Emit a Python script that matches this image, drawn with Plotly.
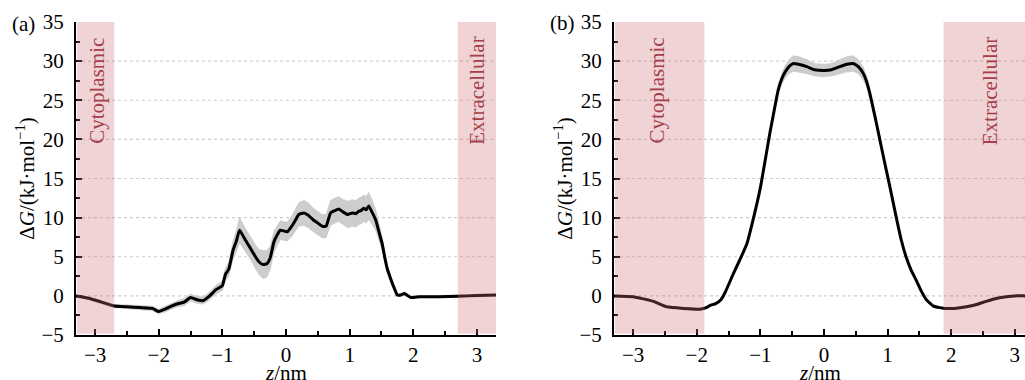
import plotly.graph_objects as go

# ---------------- data ----------------
a_z = [-3.3, -3.1, -2.9, -2.7, -2.5, -2.3, -2.1, -2.0, -1.9, -1.8, -1.7, -1.6, -1.5, -1.4,
       -1.3, -1.2, -1.1, -1.0, -0.95, -0.9, -0.83, -0.78, -0.73, -0.65, -0.56, -0.48, -0.43,
       -0.36, -0.3, -0.25, -0.19, -0.13, -0.09, 0.02, 0.09, 0.15, 0.2, 0.28, 0.35, 0.43, 0.5,
       0.57, 0.63, 0.7, 0.77, 0.83, 0.9, 0.97, 1.04, 1.1, 1.14, 1.18, 1.22, 1.26, 1.30, 1.34,
       1.41, 1.46, 1.51, 1.55, 1.59, 1.64, 1.69, 1.75, 1.8, 1.86, 1.96, 2.1, 2.4, 2.7, 3.0, 3.3]
a_g = [0.0, -0.3, -0.8, -1.3, -1.4, -1.5, -1.6, -2.0, -1.7, -1.3, -1.0, -0.8, -0.2, -0.5,
       -0.6, 0.0, 0.8, 1.3, 2.8, 3.4, 5.9, 7.0, 8.4, 7.3, 6.1, 5.0, 4.4,
       4.0, 4.1, 4.8, 6.9, 7.9, 8.4, 8.2, 8.9, 9.7, 10.4, 10.6, 10.3, 9.7, 9.3,
       8.9, 8.9, 10.6, 10.9, 11.1, 10.7, 10.4, 10.6, 10.5, 10.8, 10.9, 11.2, 11.0, 11.5, 10.9,
       9.7, 8.2, 6.7, 5.0, 3.5, 2.3, 1.2, 0.1, 0.1, 0.3, -0.2, -0.1, -0.1, -0.05, 0.05, 0.1]
a_err = [0.15, 0.15, 0.2, 0.2, 0.25, 0.25, 0.3, 0.3, 0.35, 0.4, 0.4, 0.45, 0.45, 0.45,
         0.45, 0.5, 0.55, 0.6, 0.8, 0.9, 1.2, 1.4, 1.6, 1.5, 1.4, 1.5, 1.6,
         1.8, 1.7, 1.5, 1.4, 1.3, 1.2, 1.2, 1.3, 1.4, 1.5, 1.6, 1.6, 1.5, 1.5,
         1.5, 1.5, 1.6, 1.6, 1.6, 1.6, 1.7, 1.7, 1.7, 1.7, 1.7, 1.7, 1.7, 1.7, 1.6,
         1.3, 1.1, 0.9, 0.7, 0.5, 0.4, 0.3, 0.2, 0.2, 0.2, 0.15, 0.15, 0.15, 0.15, 0.15, 0.15]

b_z = [-3.3, -3.0, -2.68, -2.47, -2.21, -1.95, -1.85, -1.79, -1.7, -1.62, -1.55, -1.42, -1.3,
       -1.21, -1.1, -1.0, -0.92, -0.85, -0.78, -0.72, -0.66, -0.61, -0.55, -0.48, -0.4, -0.27,
       -0.15, 0.0, 0.12, 0.25, 0.36, 0.46, 0.54, 0.62, 0.67, 0.72, 0.8, 0.88, 0.96, 1.04, 1.14,
       1.21, 1.29, 1.37, 1.45, 1.53, 1.61, 1.72, 1.82, 1.9, 2.05, 2.24, 2.4, 2.55, 2.72, 2.87,
       3.0, 3.16, 3.3]
b_g = [0.0, -0.1, -0.7, -1.4, -1.6, -1.7, -1.5, -1.2, -1.0, -0.5, 0.5, 2.9, 5.0,
       6.7, 10.2, 13.8, 17.5, 20.8, 23.8, 26.3, 27.8, 28.6, 29.3, 29.7, 29.6, 29.3,
       28.9, 28.8, 28.9, 29.3, 29.6, 29.7, 29.3, 28.4, 27.4, 25.9, 23.0, 19.9, 16.8, 13.8, 9.9,
       7.3, 5.0, 3.3, 2.0, 0.6, -0.5, -1.3, -1.5, -1.6, -1.6, -1.4, -1.1, -0.7, -0.3, -0.1,
       0.0, 0.0, 0.0]
b_err = [0.1, 0.1, 0.12, 0.12, 0.15, 0.15, 0.15, 0.15, 0.15, 0.15, 0.15, 0.2, 0.2,
         0.2, 0.25, 0.3, 0.35, 0.4, 0.5, 0.6, 0.7, 0.8, 0.9, 1.0, 1.0, 0.9,
         0.8, 0.8, 0.8, 0.9, 1.0, 1.0, 0.9, 0.8, 0.7, 0.6, 0.5, 0.4, 0.35, 0.3, 0.25,
         0.2, 0.2, 0.2, 0.15, 0.15, 0.15, 0.15, 0.15, 0.15, 0.12, 0.12, 0.12, 0.1, 0.1, 0.1,
         0.1, 0.1, 0.1]

x_range_a = [-3.3, 3.3]
x_range_b = [-3.3, 3.16]
y_range = [-5, 35]
grid_vals = [0, 5, 10, 15, 20, 25, 30]

regions_a = [(-3.3, -2.7, "Cytoplasmic", -2.97), (2.7, 3.3, "Extracellular", 3.0)]
regions_b = [(-3.3, -1.88, "Cytoplasmic", -2.63), (1.88, 3.3, "Extracellular", 2.6)]

FONT = "Liberation Serif, Times New Roman, serif"
shade = "rgba(202,108,115,0.3)"
text_col = "rgb(165,62,72)"

fig = go.Figure()

def add_panel(z, g, err, xa, ya):
    up = [v + e for v, e in zip(g, err)]
    lo = [v - e for v, e in zip(g, err)]
    fig.add_trace(go.Scatter(x=z, y=up, xaxis=xa, yaxis=ya, mode="lines",
                             line=dict(width=0.5, color="rgba(190,190,190,1)"),
                             showlegend=False, hoverinfo="skip"))
    fig.add_trace(go.Scatter(x=z, y=lo, xaxis=xa, yaxis=ya, mode="lines",
                             line=dict(width=0.5, color="rgba(190,190,190,1)"),
                             fill="tonexty", fillcolor="rgba(205,205,205,1)",
                             showlegend=False, hoverinfo="skip"))
    fig.add_trace(go.Scatter(x=z, y=g, xaxis=xa, yaxis=ya, mode="lines",
                             line=dict(width=3, color="black", shape="spline", smoothing=0.4),
                             showlegend=False))

add_panel(a_z, a_g, a_err, "x", "y")
add_panel(b_z, b_g, b_err, "x2", "y2")

shapes = []
annotations = []
for xr, yr, regs in [("x", "y", regions_a), ("x2", "y2", regions_b)]:
    for gv in grid_vals:
        shapes.append(dict(type="line", xref=xr + " domain", yref=yr, x0=0, x1=1, y0=gv, y1=gv,
                           line=dict(color="rgb(205,205,205)", width=1.2, dash="dot"),
                           layer="below"))
    for x0, x1, label, xc in regs:
        shapes.append(dict(type="rect", xref=xr, yref=yr,
                           x0=max(x0, -3.285), x1=x1, y0=-4.85, y1=35,
                           fillcolor=shade, line=dict(width=0), layer="above"))
        annotations.append(dict(x=xc, y=26.2, xref=xr, yref=yr, text=label, showarrow=False,
                                textangle=-90, font=dict(family=FONT, size=21, color=text_col)))
    # x-axis title, centred under the axis
    annotations.append(dict(x=0.5, y=1 - 373 / 380, xref=xr + " domain", yref="paper",
                            text="<i>z</i>/nm", showarrow=False, xanchor="center",
                            yanchor="middle", font=dict(family=FONT, size=21, color="black")))

annotations.append(dict(x=23 / 1025, y=1 - 24 / 380, xref="paper", yref="paper", text="(a)",
                        showarrow=False, xanchor="center", yanchor="middle",
                        font=dict(family=FONT, size=21, color="black")))
annotations.append(dict(x=562 / 1025, y=1 - 23 / 380, xref="paper", yref="paper", text="(b)",
                        showarrow=False, xanchor="center", yanchor="middle",
                        font=dict(family=FONT, size=21, color="black")))

def xaxis(domain, rng, anchor):
    return dict(domain=domain, range=rng, anchor=anchor, showgrid=False, zeroline=False,
                automargin=False,
                showline=True, linecolor="black", linewidth=2, ticks="inside", ticklen=6,
                tickwidth=1.5, tickcolor="black", dtick=1, tick0=0,
                minor=dict(ticks="inside", ticklen=4, tickwidth=1.5, tickcolor="black",
                           dtick=0.5, showgrid=False),
                tickfont=dict(family=FONT, size=21, color="black"), ticklabelstandoff=0)

def yaxis(anchor):
    return dict(domain=[45 / 380, 1 - 22 / 380], range=y_range, anchor=anchor, showgrid=False,
                zeroline=False, automargin=False,
                showline=True, linecolor="black", linewidth=2, ticks="inside",
                ticklen=6, tickwidth=1.5, tickcolor="black", dtick=5, tick0=0,
                minor=dict(ticks="inside", ticklen=4, tickwidth=1.5, tickcolor="black",
                           dtick=2.5, showgrid=False),
                tickfont=dict(family=FONT, size=21, color="black"), ticklabelstandoff=6,
                title=dict(text="Δ<i>G</i>/(kJ·mol<sup>−1</sup>)",
                           font=dict(family=FONT, size=21, color="black"), standoff=1))

fig.update_layout(
    width=1025, height=380,
    margin=dict(l=0, r=0, t=0, b=0),
    paper_bgcolor="white", plot_bgcolor="white",
    xaxis=xaxis([76 / 1025, 496 / 1025], x_range_a, "y"),
    yaxis=yaxis("x"),
    xaxis2=xaxis([614 / 1025, 1.0], x_range_b, "y2"),
    yaxis2=yaxis("x2"),
    shapes=shapes, annotations=annotations,
    font=dict(family=FONT),
)

fig.write_html("out.html", config={"displayModeBar": False},
               post_script="document.body.style.margin='0';document.body.style.overflow='hidden';")
